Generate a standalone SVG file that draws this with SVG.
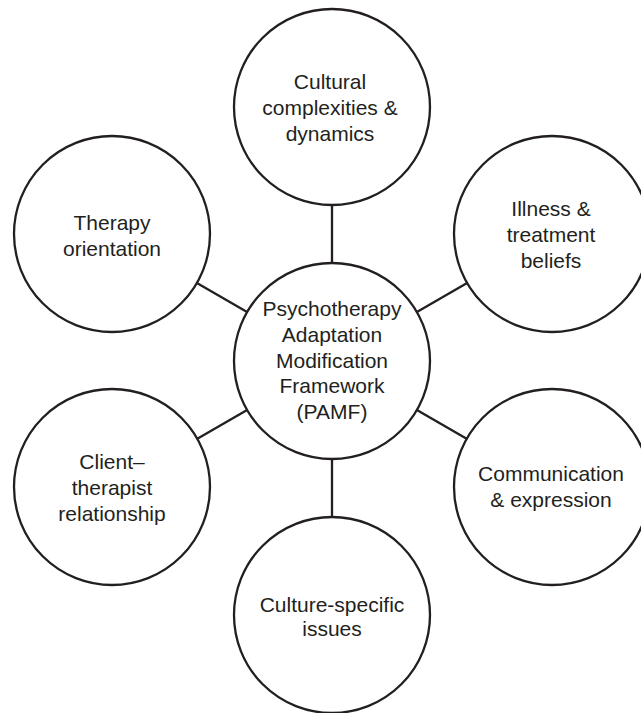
<svg xmlns="http://www.w3.org/2000/svg" width="641" height="713" viewBox="0 0 641 713">
  <style>
    .node circle { fill: #ffffff; stroke: #231f20; stroke-width: 2.3; }
    .node text { font-family: "Liberation Sans", Arial, sans-serif; font-size: 21px; fill: #231f20; text-anchor: middle; }
    #connectors line { stroke: #231f20; stroke-width: 2.3; }
  </style>
  <rect width="641" height="713" fill="#ffffff"/>

  <!-- spokes from the hub to each outer circle -->
  <g id="connectors">
    <line x1="332" y1="263" x2="332" y2="205"/>
    <line x1="332" y1="459" x2="332" y2="517"/>
    <line x1="416.9" y1="312" x2="467.1" y2="283"/>
    <line x1="416.9" y1="410" x2="467.1" y2="439"/>
    <line x1="247.1" y1="312" x2="196.9" y2="283"/>
    <line x1="247.1" y1="410" x2="196.9" y2="439"/>
  </g>

  <g id="hub" class="node">
    <circle cx="332" cy="361" r="98"/>
    <text x="332" y="316">Psychotherapy</text>
    <text x="332" y="341.8">Adaptation</text>
    <text x="332" y="367.6">Modification</text>
    <text x="332" y="393.4">Framework</text>
    <text x="332" y="419.2">(PAMF)</text>
  </g>

  <g id="cultural" class="node">
    <circle cx="332" cy="107" r="98"/>
    <text x="330" y="89.2">Cultural</text>
    <text x="330" y="115">complexities &amp;</text>
    <text x="330" y="140.8">dynamics</text>
  </g>

  <g id="illness" class="node">
    <circle cx="552" cy="234" r="98"/>
    <text x="551" y="216.4">Illness &amp;</text>
    <text x="551" y="242.2">treatment</text>
    <text x="551" y="268">beliefs</text>
  </g>

  <g id="communication" class="node">
    <circle cx="552" cy="487" r="98"/>
    <text x="551" y="481">Communication</text>
    <text x="551" y="506.8">&amp; expression</text>
  </g>

  <g id="culture-specific" class="node">
    <circle cx="332" cy="615" r="98"/>
    <text x="332" y="611.5">Culture-specific</text>
    <text x="332" y="636">issues</text>
  </g>

  <g id="client" class="node">
    <circle cx="112" cy="487" r="98"/>
    <text x="112" y="469.2">Client–</text>
    <text x="112" y="495">therapist</text>
    <text x="112" y="520.8">relationship</text>
  </g>

  <g id="therapy" class="node">
    <circle cx="112" cy="234" r="98"/>
    <text x="112" y="230">Therapy</text>
    <text x="112" y="255.8">orientation</text>
  </g>
</svg>
